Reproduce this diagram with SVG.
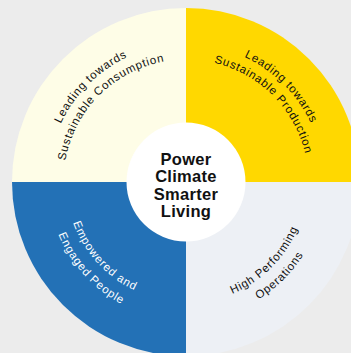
<svg xmlns="http://www.w3.org/2000/svg" xmlns:xlink="http://www.w3.org/1999/xlink" width="351" height="353" viewBox="0 0 351 353">
<style>
.arc{font-family:"Liberation Sans",Arial,sans-serif;font-size:11.5px;letter-spacing:0.8px;}
.dark{fill:#111111;}
.light{fill:#ffffff;}
.center{font-family:"Liberation Sans",Arial,sans-serif;font-size:16.5px;font-weight:bold;fill:#111111;text-anchor:middle;letter-spacing:0.3px;}
</style>
<defs>
<path id="tl1" d="M48,182 A138,138 0 0 1 186,44"/>
<path id="tl2" d="M63.5,182 A122.5,122.5 0 0 1 186,59.5"/>
<path id="tr1" d="M186,44 A138,138 0 0 1 324,182"/>
<path id="tr2" d="M186,59.5 A122.5,122.5 0 0 1 308.5,182"/>
<path id="bl1" d="M66,182 A120,120 0 0 0 186,302"/>
<path id="bl2" d="M48,182 A138,138 0 0 0 186,320"/>
<path id="br1" d="M186,303 A121,121 0 0 0 307,182"/>
<path id="br2" d="M186,320 A138,138 0 0 0 324,182"/>
</defs>
<rect width="351" height="353" fill="#ececec"/>
<g id="consumption">
<path d="M186,182 L12,182 A174,174 0 0 1 186,8 Z" fill="#fefde7"/>
<text class="arc dark"><textPath xlink:href="#tl1" href="#tl1" startOffset="50%" text-anchor="middle">Leading towards</textPath></text>
<text class="arc dark"><textPath xlink:href="#tl2" href="#tl2" startOffset="50%" text-anchor="middle">Sustainable Consumption</textPath></text>
</g>
<g id="production">
<path d="M186,182 L186,8 A174,174 0 0 1 360,182 Z" fill="#ffd800"/>
<text class="arc dark"><textPath xlink:href="#tr1" href="#tr1" startOffset="50%" text-anchor="middle">Leading towards</textPath></text>
<text class="arc dark"><textPath xlink:href="#tr2" href="#tr2" startOffset="50%" text-anchor="middle">Sustainable Production</textPath></text>
</g>
<g id="operations">
<path d="M186,182 L360,182 A174,174 0 0 1 186,356 Z" fill="#edf0f5"/>
<text class="arc dark"><textPath xlink:href="#br1" href="#br1" startOffset="50%" text-anchor="middle">High Performing</textPath></text>
<text class="arc dark"><textPath xlink:href="#br2" href="#br2" startOffset="50%" text-anchor="middle">Operations</textPath></text>
</g>
<g id="people">
<path d="M186,182 L186,356 A174,174 0 0 1 12,182 Z" fill="#2371b6"/>
<text class="arc light"><textPath xlink:href="#bl1" href="#bl1" startOffset="47%" text-anchor="middle">Empowered and</textPath></text>
<text class="arc light"><textPath xlink:href="#bl2" href="#bl2" startOffset="47%" text-anchor="middle">Engaged People</textPath></text>
</g>
<g id="core">
<circle cx="186" cy="182" r="59.5" fill="#ffffff"/>
<text class="center" x="186" y="165">Power</text>
<text class="center" x="186" y="182.3">Climate</text>
<text class="center" x="186" y="199.6">Smarter</text>
<text class="center" x="186" y="217">Living</text>
</g>
</svg>
